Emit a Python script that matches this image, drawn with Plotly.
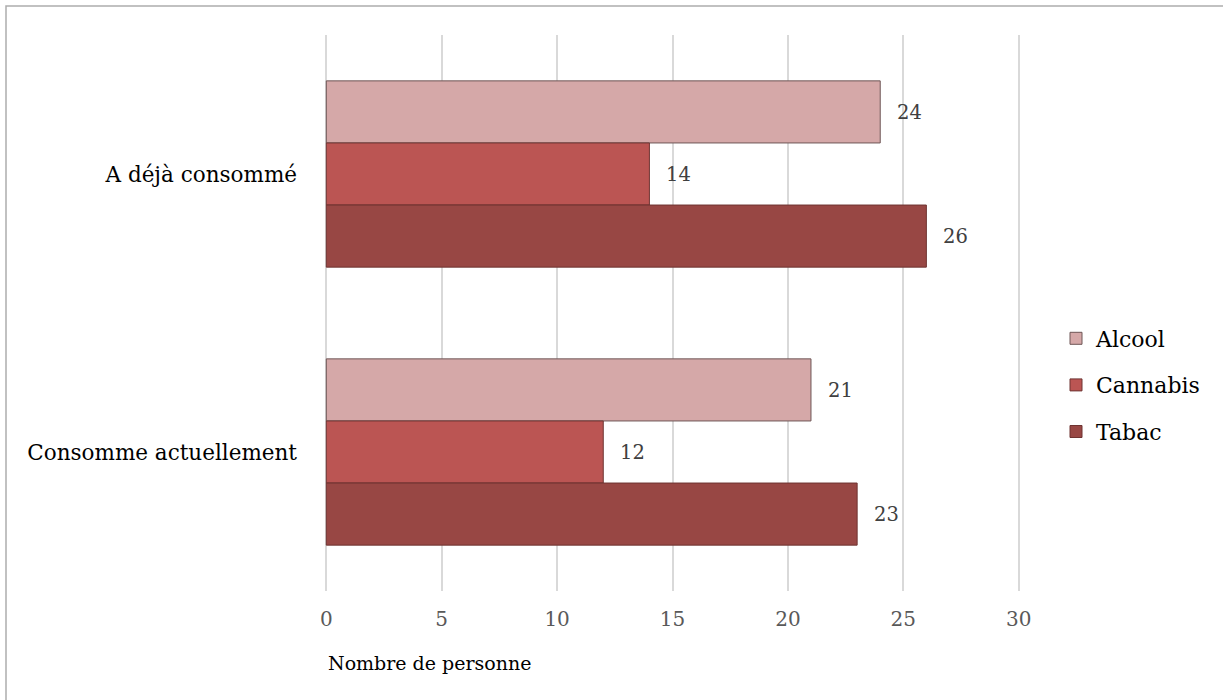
import plotly.graph_objects as go

categories = ["A déjà consommé", "Consomme actuellement"]
series_names = ["Alcool", "Cannabis", "Tabac"]
alcool = [24, 21]
cannabis = [14, 12]
tabac = [26, 23]
x_ticks = [0, 5, 10, 15, 20, 25, 30]
x_title = "Nombre de personne"

values = {"Alcool": alcool, "Cannabis": cannabis, "Tabac": tabac}
colors = {"Alcool": "#D5A8A8", "Cannabis": "#BB5553", "Tabac": "#984744"}
outlines = {"Alcool": "#6E5656", "Cannabis": "#6E3533", "Tabac": "#6E3331"}

FONT = "DejaVu Serif"
W, H = 1223, 700
ml, mr, mt, mb = 324, 202, 35, 109
pw = W - ml - mr
ph = H - mt - mb

fig = go.Figure()
for name in series_names:
    fig.add_trace(go.Bar(
        y=categories, x=values[name], name=name, orientation="h",
        marker=dict(color=colors[name], line=dict(color=outlines[name], width=1)),
        legendgroup=name,
    ))

# data labels next to the bar ends
n = len(series_names)
annotations = []
for ci, cat in enumerate(categories):
    for si, name in enumerate(series_names):
        annotations.append(dict(
            x=values[name][ci], y=cat, xref="x", yref="y",
            text=str(values[name][ci]), showarrow=False,
            xanchor="left", xshift=15,
            yshift=((n - 1) / 2 - si) * 62,
            font=dict(family=FONT, size=19.5, color="#404040"),
        ))
# axis title, left aligned under the axis
annotations.append(dict(
    x=0, y=-(663 - (H - mb)) / ph, xref="x", yref="paper",
    text=x_title, showarrow=False, xanchor="left", yanchor="middle",
    font=dict(family=FONT, size=19, color="#000000"),
))

fig.update_layout(
    width=W, height=H,
    margin=dict(l=ml, r=mr, t=mt, b=mb),
    paper_bgcolor="white", plot_bgcolor="white",
    barmode="group", bargap=0.33, bargroupgap=0,
    font=dict(family=FONT, size=20, color="#000000"),
    xaxis=dict(
        range=[-0.1, 30.1], tickvals=x_ticks, showgrid=True, gridcolor="#D9D9D9",
        gridwidth=1.5, zeroline=False, showline=False,
        tickfont=dict(family=FONT, size=20, color="#595959"),
        ticks="", ticklabelstandoff=14,
    ),
    yaxis=dict(
        categoryorder="array", categoryarray=categories, autorange="reversed",
        showgrid=False, zeroline=False, showline=False, ticks="",
        tickfont=dict(family=FONT, size=21.5, color="#000000"), ticklabelstandoff=26,
    ),
    legend=dict(
        x=(1056 - ml) / pw, y=(H - mb - 385) / ph, xanchor="left", yanchor="middle",
        traceorder="grouped", tracegroupgap=15,
        font=dict(family=FONT, size=22, color="#000000"),
        itemwidth=30,
    ),
    annotations=annotations,
    shapes=[dict(
        type="rect", xref="paper", yref="paper",
        x0=(6 - ml) / pw, x1=(W + 20 - ml) / pw,
        y0=-(H + 20 - mt - ph) / ph, y1=(H - mb - 6) / ph,
        line=dict(color="#ADADAD", width=1.5), fillcolor="rgba(0,0,0,0)", layer="below",
    )],
)

fig.write_html(
    "out.html",
    config={"displayModeBar": False},
    post_script="document.body.style.margin='0';document.body.style.overflow='hidden';",
)
